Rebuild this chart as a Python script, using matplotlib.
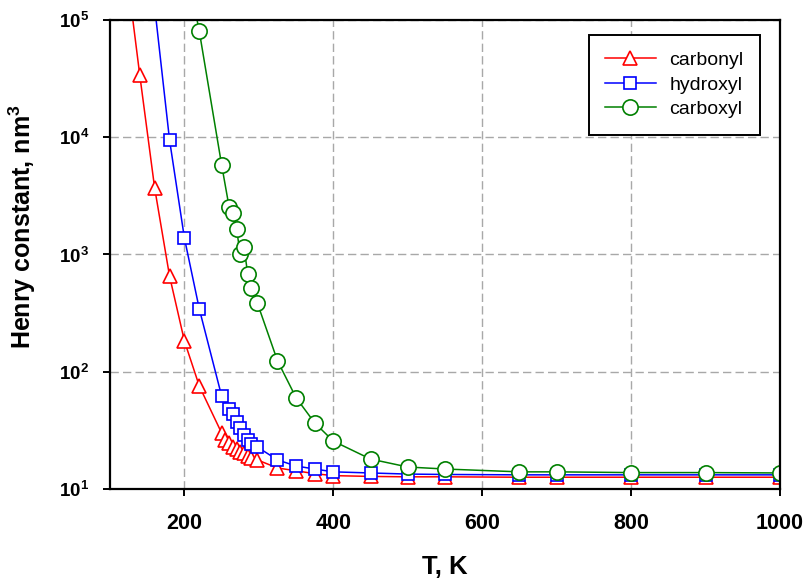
import matplotlib
matplotlib.use("Agg")
import matplotlib.pyplot as plt
from matplotlib.ticker import NullLocator, FixedLocator

# ── Dati ────────────────────────────────────────────────────────────────────
T_carbonyl = [120, 140, 160, 180, 200, 220, 250, 255, 260, 265, 270, 275, 280,
              285, 290, 298, 325, 350, 375, 400, 450, 500, 550, 650, 700, 800,
              900, 1000]
K_carbonyl = [3.5e5, 3.4e4, 3.7e3, 656, 183, 75.5, 30, 26.2, 24.7, 22.8, 21.9,
              20.7, 20.3, 19.1, 18.4, 17.7, 15.1, 14.3, 13.5, 13.0, 12.8, 12.7,
              12.7, 12.6, 12.6, 12.6, 12.6, 12.6]

T_hydroxyl = [160, 180, 200, 220, 250, 260, 265, 270, 275, 280, 285, 290, 298,
              325, 350, 375, 400, 450, 500, 550, 650, 700, 800, 900, 1000]
K_hydroxyl = [1.3e5, 9.5e3, 1.38e3, 343, 62, 48, 43.6, 37.2, 33.1, 28.9, 26.2,
              24.2, 22.8, 17.7, 15.7, 14.8, 14.0, 13.7, 13.4, 13.3, 13.2, 13.2,
              13.2, 13.2, 13.2]

T_carboxyl = [200, 220, 250, 260, 265, 270, 275, 280, 285, 290, 298, 325, 350,
              375, 400, 450, 500, 550, 650, 700, 800, 900, 1000]
K_carboxyl = [3.5e5, 8.0e4, 5.8e3, 2.55e3, 2.26e3, 1.65e3, 1.01e3, 1.16e3, 683,
              518, 385, 124, 60, 36.6, 25.6, 18.0, 15.4, 14.8, 14.0, 14.0, 13.8,
              13.8, 13.7]

X_TICKS = [200, 400, 600, 800, 1000]
Y_TICKS = [1e1, 1e2, 1e3, 1e4, 1e5]
Y_TICK_LABELS = [r"$\mathbf{10^{1}}$", r"$\mathbf{10^{2}}$", r"$\mathbf{10^{3}}$",
                 r"$\mathbf{10^{4}}$", r"$\mathbf{10^{5}}$"]
# ─────────────────────────────────────────────────────────────────────────────

plt.rcParams["font.family"] = ["Liberation Sans", "DejaVu Sans"]
plt.rcParams["mathtext.fontset"] = "custom"
plt.rcParams["mathtext.rm"] = "Liberation Sans"
plt.rcParams["mathtext.bf"] = "Liberation Sans:bold"

fig = plt.figure(figsize=(8.05, 5.78), dpi=100)
ax = fig.add_axes([0.1366, 0.154, 0.8324, 0.8114])

common = dict(linewidth=1.1, markerfacecolor="white", markeredgewidth=1.2)
ax.plot(T_carbonyl, K_carbonyl, color="#ff0000", marker="^", markersize=10,
        label="carbonyl", **common)
ax.plot(T_hydroxyl, K_hydroxyl, color="#0000ff", marker="s", markersize=8.5,
        label="hydroxyl", **common)
ax.plot(T_carboxyl, K_carboxyl, color="#008000", marker="o", markersize=11,
        label="carboxyl", **common)

ax.set_yscale("log")
ax.set_xlim(100, 1000)
ax.set_ylim(10, 1e5)

ax.xaxis.set_major_locator(FixedLocator(X_TICKS))
ax.set_xticklabels([str(t) for t in X_TICKS], fontsize=15.5, fontweight="bold")
ax.set_yticks(Y_TICKS)
ax.set_yticklabels(Y_TICK_LABELS, fontsize=13.5)
ax.yaxis.set_minor_locator(NullLocator())

ax.tick_params(axis="both", direction="out", length=5, width=1.4, color="black")
ax.tick_params(axis="x", pad=12)
ax.tick_params(axis="y", pad=10)
for sp in ax.spines.values():
    sp.set_linewidth(1.6)
    sp.set_color("black")

ax.grid(True, which="major", color="#a8a8a8", linestyle=(0, (6, 3)), linewidth=1.0)
ax.set_axisbelow(True)

ax.set_xlabel("T, K", fontsize=18.5, fontweight="bold")
ax.set_ylabel(r"Henry constant, nm$\mathbf{^3}$", fontsize=18, fontweight="bold")
ax.xaxis.set_label_coords(0.5, -0.14)
ax.yaxis.set_label_coords(-0.107, 0.56)

leg = ax.legend(loc="upper right", bbox_to_anchor=(0.970, 0.968), fontsize=14,
                fancybox=False, framealpha=1, edgecolor="black", numpoints=1,
                handlelength=2.6, labelspacing=0.35, borderpad=0.85,
                handletextpad=0.7, borderaxespad=0)
leg.get_frame().set_linewidth(1.4)

fig.savefig("out.png", dpi=100)
